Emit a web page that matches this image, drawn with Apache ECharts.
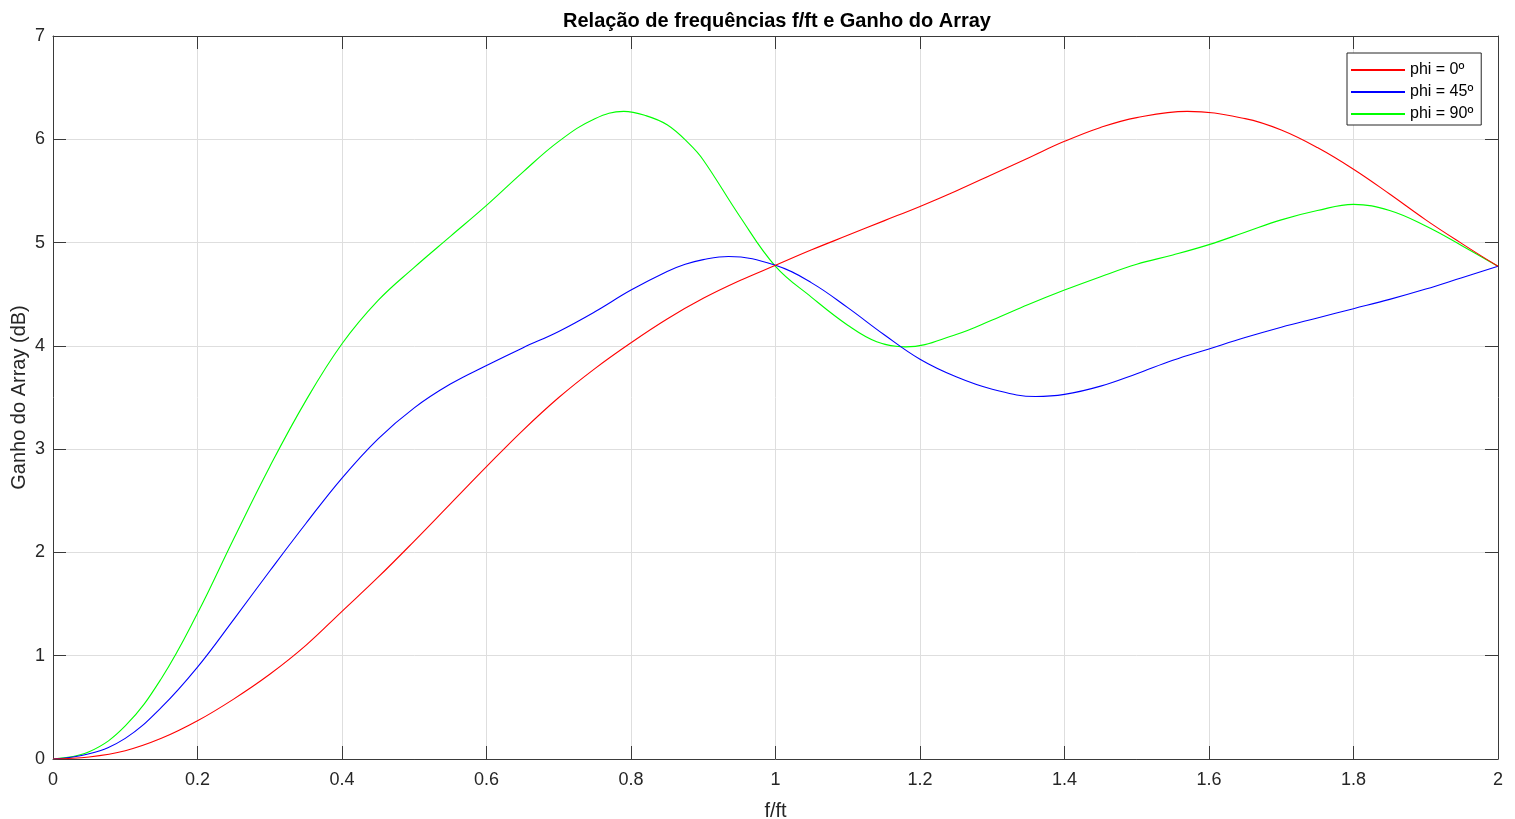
<!DOCTYPE html>
<html>
<head>
<meta charset="utf-8">
<script src="https://cdn.jsdelivr.net/npm/echarts@6/dist/echarts.min.js"></script>
<style>
html,body{margin:0;padding:0;background:#fff;}
#chart{width:1515px;height:819px;}
</style>
</head>
<body>
<div id="chart"></div>
<script>
// phi = 0º
var xPhi0 = [0,0.05,0.1,0.15,0.2,0.25,0.3,0.35,0.4,0.45,0.5,0.55,0.6,0.65,0.7,0.75,0.8,0.85,0.9,0.95,1.0,
  1.05,1.1,1.15,1.2,1.25,1.3,1.35,1.4,1.45,1.5,1.57,1.65,1.7,1.75,1.8,1.85,1.9,1.95,2.0];
var phi0 = [0,0.02,0.08,0.2,0.37,0.58,0.82,1.1,1.43,1.76,2.11,2.47,2.83,3.18,3.5,3.78,4.03,4.26,4.46,4.63,4.78,
  4.93,5.07,5.21,5.35,5.5,5.66,5.82,5.98,6.115,6.21,6.27,6.2,6.09,5.92,5.71,5.47,5.22,4.99,4.77];
// phi = 45º
var xPhi45 = [0,0.05,0.1,0.15,0.2,0.25,0.3,0.35,0.4,0.45,0.5,0.55,0.6,0.65,0.7,0.75,0.8,0.85,0.875,0.9,0.935,1.0,
  1.05,1.1,1.15,1.2,1.25,1.3,1.36,1.4,1.45,1.5,1.55,1.6,1.65,1.7,1.75,1.8,1.85,1.9,1.95,2.0];
var phi45 = [0,0.05,0.2,0.5,0.89,1.35,1.82,2.28,2.72,3.1,3.4,3.63,3.81,3.98,4.14,4.33,4.54,4.72,4.79,4.835,4.865,4.78,
  4.61,4.37,4.11,3.87,3.7,3.58,3.51,3.53,3.61,3.73,3.86,3.97,4.08,4.18,4.27,4.36,4.45,4.55,4.66,4.77];
// phi = 90º
var xPhi90 = [0,0.05,0.1,0.15,0.2,0.25,0.3,0.35,0.4,0.45,0.5,0.55,0.6,0.65,0.7,0.75,0.79,0.82,0.85,0.88,0.9,0.95,1.0,
  1.05,1.1,1.14,1.18,1.25,1.3,1.35,1.4,1.45,1.5,1.55,1.6,1.65,1.7,1.75,1.8,1.85,1.9,1.95,2.0];
var phi90 = [0,0.07,0.32,0.78,1.41,2.13,2.83,3.47,4.02,4.44,4.76,5.06,5.36,5.68,5.98,6.2,6.27,6.23,6.14,5.96,5.8,5.26,4.77,
  4.47,4.2,4.04,3.99,4.11,4.25,4.4,4.54,4.67,4.79,4.88,4.98,5.1,5.22,5.31,5.37,5.31,5.16,4.97,4.77];

var seriesNames = ['phi = 0º','phi = 45º','phi = 90º'];
var seriesColors = ['#ff0000','#0000ff','#00ff00'];
var xTicks = [0,0.2,0.4,0.6,0.8,1,1.2,1.4,1.6,1.8,2];
var yTicks = [0,1,2,3,4,5,6,7];

function pairs(xs, ys){ return xs.map(function(x,i){ return [x, ys[i]]; }); }
var allX = [xPhi0, xPhi45, xPhi90];
var allY = [phi0, phi45, phi90];

var chart = echarts.init(document.getElementById('chart'));
var font = 'Liberation Sans, Arial, Helvetica, sans-serif';
var axisColor = '#3a3a3a';
var textColor = '#262626';
var option = {
  backgroundColor: '#ffffff',
  animation: false,
  title: {
    text: 'Relação de frequências f/ft e Ganho do Array',
    left: 772, top: 6, textAlign: 'center',
    textStyle: {fontFamily: font, fontSize: 20, fontWeight: 'bold', color: '#000'}
  },
  grid: {left: 53, right: 17, top: 36, bottom: 60, containLabel: false, outerBoundsMode: 'none'},
  legend: {
    orient: 'vertical', left: 1347, top: 53,
    padding: [9, 8, 3, 4], itemGap: 6, itemWidth: 54, itemHeight: 2,
    icon: 'rect',
    backgroundColor: '#fff', borderColor: '#262626', borderWidth: 1, borderRadius: 0,
    textStyle: {fontFamily: font, fontSize: 16, color: '#000', lineHeight: 16},
    data: seriesNames
  },
  xAxis: [{
    type: 'value', min: xTicks[0], max: xTicks[xTicks.length - 1], interval: 0.2,
    name: 'f/ft', nameLocation: 'middle', nameGap: 42, nameMoveOverlap: false,
    nameTextStyle: {fontFamily: font, fontSize: 20, color: textColor},
    axisLine: {show: true, onZero: false, lineStyle: {color: axisColor, width: 1}},
    axisTick: {show: true, inside: true, length: 13, lineStyle: {color: axisColor}},
    axisLabel: {fontFamily: font, fontSize: 18, color: textColor, margin: 12},
    splitLine: {show: true, lineStyle: {color: '#dedede', width: 1}}
  }, {
    type: 'value', min: xTicks[0], max: xTicks[xTicks.length - 1], interval: 0.2, position: 'top',
    axisLine: {show: true, onZero: false, lineStyle: {color: axisColor, width: 1}},
    axisTick: {show: true, inside: true, length: 13, lineStyle: {color: axisColor}},
    axisLabel: {show: false}, splitLine: {show: false}
  }],
  yAxis: [{
    type: 'value', min: yTicks[0], max: yTicks[yTicks.length - 1], interval: 1,
    name: 'Ganho do Array (dB)', nameLocation: 'middle', nameGap: 24, nameRotate: 90, nameMoveOverlap: false,
    nameTextStyle: {fontFamily: font, fontSize: 20, color: textColor},
    axisLine: {show: true, onZero: false, lineStyle: {color: axisColor, width: 1}},
    axisTick: {show: true, inside: true, length: 13, lineStyle: {color: axisColor}},
    axisLabel: {fontFamily: font, fontSize: 18, color: textColor, margin: 8},
    splitLine: {show: true, lineStyle: {color: '#dedede', width: 1}}
  }, {
    type: 'value', min: yTicks[0], max: yTicks[yTicks.length - 1], interval: 1, position: 'right',
    axisLine: {show: true, onZero: false, lineStyle: {color: axisColor, width: 1}},
    axisTick: {show: true, inside: true, length: 13, lineStyle: {color: axisColor}},
    axisLabel: {show: false}, splitLine: {show: false}
  }],
  series: seriesNames.map(function(n, i){
    return {
      name: n, type: 'line', data: pairs(allX[i], allY[i]),
      xAxisIndex: 0, yAxisIndex: 0,
      smooth: 0.4, symbol: 'none', showSymbol: false,
      lineStyle: {color: seriesColors[i], width: 1.1},
      itemStyle: {color: seriesColors[i]},
      z: 3 - i
    };
  })
};
chart.setOption(option);
</script>
</body>
</html>
